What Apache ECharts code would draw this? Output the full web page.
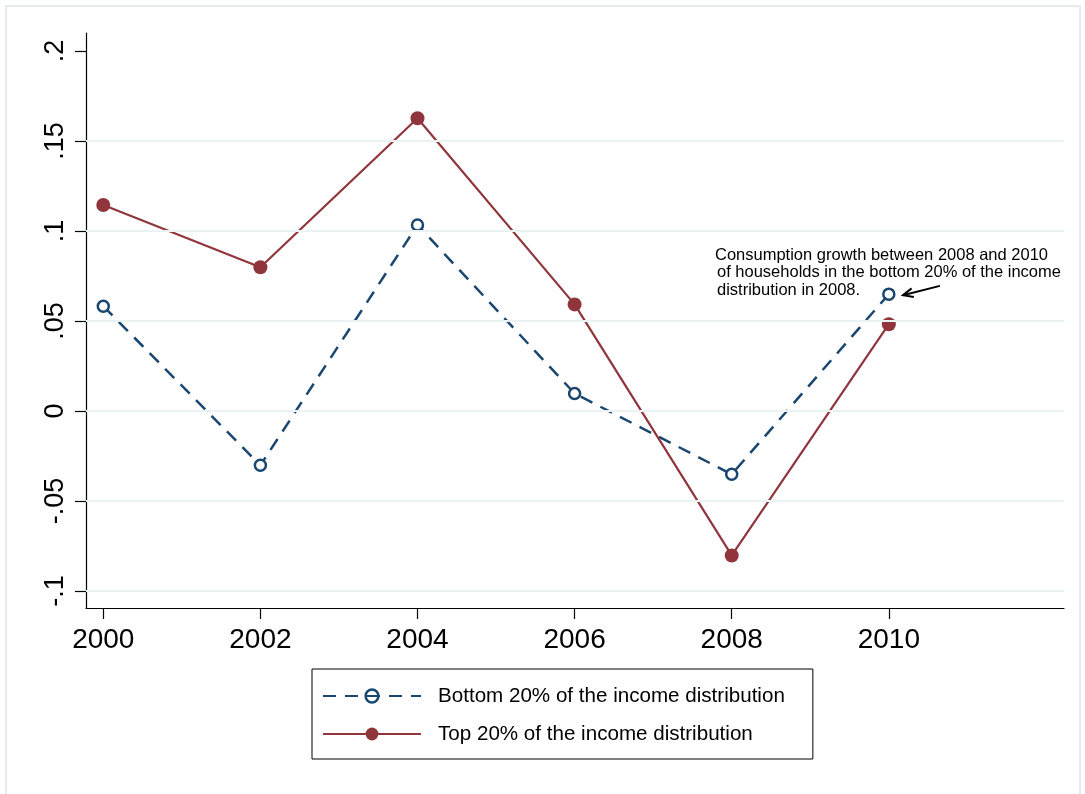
<!DOCTYPE html>
<html>
<head>
<meta charset="utf-8">
<script src="https://cdn.jsdelivr.net/npm/echarts@6/dist/echarts.min.js"></script>
<style>
html,body{margin:0;padding:0;background:#fff;}
#chart{width:1085px;height:794px;}
</style>
</head>
<body>
<div id="chart"></div>
<script>
var years = [2000, 2002, 2004, 2006, 2008, 2010];
var bottom20 = [0.0582, -0.0302, 0.1033, 0.0097, -0.0352, 0.0649];
var top20 = [0.1144, 0.0798, 0.1626, 0.0592, -0.0803, 0.0482];
var xTicks = [2000, 2002, 2004, 2006, 2008, 2010];
var yTicks = [-0.1, -0.05, 0, 0.05, 0.1, 0.15, 0.2];
var yTickLabels = ['-.1', '-.05', '0', '.05', '.1', '.15', '.2'];
var gridValues = [-0.1, -0.05, 0, 0.05, 0.1, 0.15];
var seriesNames = ['Bottom 20% of the income distribution', 'Top 20% of the income distribution'];
var noteLines = ['Consumption growth between 2008 and 2010', 'of households in the bottom 20% of the income', 'distribution in 2008.'];
var noteAnchor = [2010.65, 0.0695];
var noteTip = [2010.18, 0.0643];

var FONT = '"Liberation Sans", Arial, Helvetica, sans-serif';
var BLUE = '#1a476f';
var RED = '#90353b';

function pairs(xs, ys) { return xs.map(function (x, i) { return [x, ys[i]]; }); }

var chart = echarts.init(document.getElementById('chart'), null, {renderer: 'canvas'});

var option = {
  backgroundColor: '#ffffff',
  animation: false,
  textStyle: {fontFamily: FONT},
  grid: {left: 86, right: 21, top: 33, bottom: 186},
  xAxis: {
    type: 'value',
    min: 1999.78,
    max: 2012.23,
    axisLine: {show: true, onZero: false, lineStyle: {color: '#000', width: 1.2}},
    axisTick: {show: true, length: 11, customValues: xTicks, lineStyle: {color: '#000', width: 1.2}},
    axisLabel: {show: true, customValues: xTicks, margin: 18, fontSize: 28, color: '#000', fontFamily: FONT,
      formatter: function (v) { return String(Math.round(v)); }},
    splitLine: {show: false}
  },
  yAxis: {
    type: 'value',
    min: -0.1095,
    max: 0.21,
    axisLine: {show: true, onZero: false, lineStyle: {color: '#000', width: 1.2}},
    axisTick: {show: true, length: 11, customValues: yTicks, lineStyle: {color: '#000', width: 1.2}},
    axisLabel: {show: true, customValues: yTicks, rotate: 90, margin: 17, fontSize: 27, color: '#000', fontFamily: FONT,
      formatter: function (v) {
        for (var i = 0; i < yTicks.length; i++) { if (Math.abs(yTicks[i] - v) < 1e-9) return yTickLabels[i]; }
        return '';
      }},
    splitLine: {show: false}
  },
  legend: {
    data: [
      {name: seriesNames[0], itemStyle: {color: 'rgba(0,0,0,0)', borderColor: BLUE, borderWidth: 2.5}},
      {name: seriesNames[1]}
    ],
    orient: 'vertical',
    left: 312,
    top: 669,
    itemWidth: 98,
    itemHeight: 16,
    itemGap: 16,
    padding: [16, 28, 14, 10],
    borderColor: '#000',
    borderWidth: 1,
    textStyle: {fontSize: 20.6, color: '#000', fontFamily: FONT, padding: [0, 0, 0, 12], lineHeight: 22}
  },
  series: [
    {
      name: 'grid',
      type: 'line',
      data: [],
      z: 0,
      silent: true,
      markLine: {
        silent: true,
        symbol: ['none', 'none'],
        label: {show: false},
        lineStyle: {color: '#eaf2f3', width: 2, type: 'solid'},
        data: gridValues.map(function (v) { return {yAxis: v}; })
      }
    },
    {
      name: seriesNames[0],
      type: 'line',
      data: pairs(years, bottom20),
      z: 3,
      symbol: 'circle',
      symbolSize: 11,
      itemStyle: {color: '#ffffff', borderColor: BLUE, borderWidth: 2.5},
      lineStyle: {color: BLUE, width: 2.5, type: [13, 9]}
    },
    {
      name: seriesNames[1],
      type: 'line',
      data: pairs(years, top20),
      z: 4,
      symbol: 'circle',
      symbolSize: 14,
      itemStyle: {color: RED, borderColor: RED, borderWidth: 0},
      lineStyle: {color: RED, width: 2.2, type: 'solid'}
    }
  ]
};
chart.setOption(option);

var a = chart.convertToPixel({gridIndex: 0}, noteAnchor);
var t = chart.convertToPixel({gridIndex: 0}, noteTip);
var ang = Math.atan2(a[1] - t[1], a[0] - t[0]);
var hl = 11, ha = 0.42;
var h1 = [t[0] + hl * Math.cos(ang + ha), t[1] + hl * Math.sin(ang + ha)];
var h2 = [t[0] + hl * Math.cos(ang - ha), t[1] + hl * Math.sin(ang - ha)];

var graphics = [
  {type: 'rect', shape: {x: 6, y: 6, width: 1074, height: 800}, style: {fill: 'none', stroke: '#e4ecef', lineWidth: 2}, silent: true, z: -10},
  {type: 'line', shape: {x1: a[0], y1: a[1], x2: t[0], y2: t[1]}, style: {stroke: '#000', lineWidth: 2}, z: 10},
  {type: 'polyline', shape: {points: [h1, t, h2]}, style: {stroke: '#000', lineWidth: 2, fill: 'none'}, z: 10}
];
noteLines.forEach(function (s, i) {
  graphics.push({type: 'text', x: 715 + (i > 0 ? 2 : 0), y: 255.3 + i * 17.4, z: 10,
    style: {text: s, fill: '#000', font: '16.5px ' + FONT, textAlign: 'left', textVerticalAlign: 'middle'}});
});
chart.setOption({graphic: graphics});
</script>
</body>
</html>
